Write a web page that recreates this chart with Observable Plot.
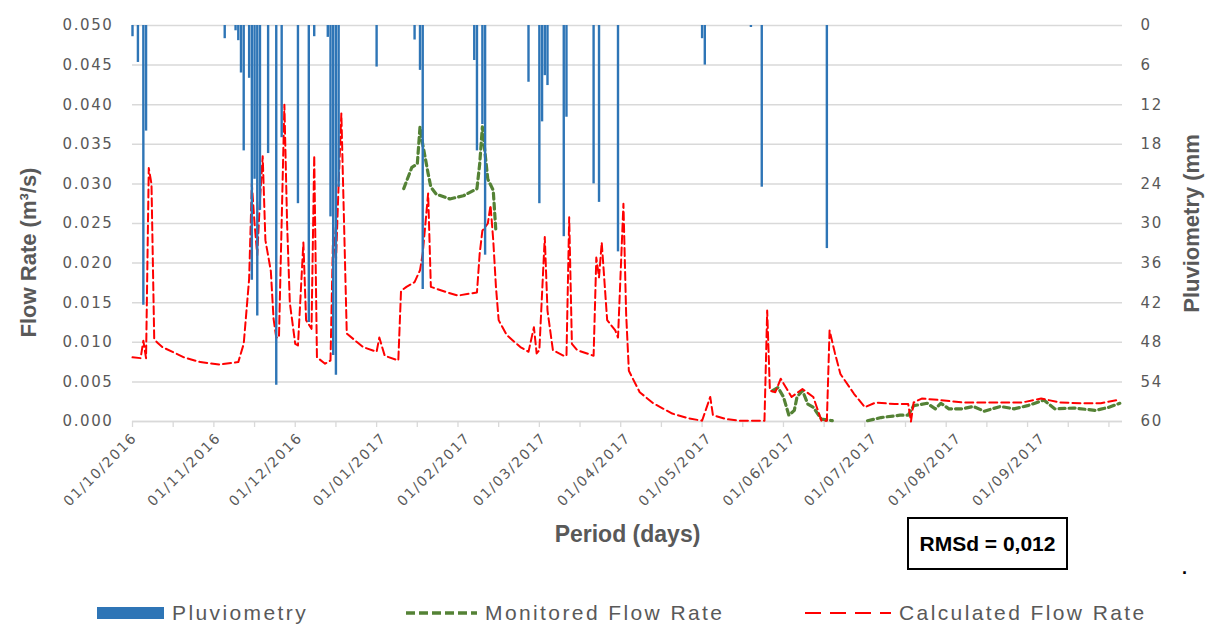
<!DOCTYPE html>
<html>
<head>
<meta charset="utf-8">
<script src="https://cdn.jsdelivr.net/npm/d3@7"></script>
<script src="https://cdn.jsdelivr.net/npm/@observablehq/plot@0.6"></script>
<style>
  html, body { margin: 0; padding: 0; background: #fff; }
  #wrap { position: relative; width: 1207px; height: 626px; overflow: hidden; font-family: "Liberation Sans", Arial, sans-serif; }
  #chart { position: absolute; left: 0; top: 0; }
  .legend-item { position: absolute; top: 600px; height: 26px; display: flex; align-items: center; color: #595959; font-size: 21px; letter-spacing: 2.4px; white-space: nowrap; }
  .legend-item svg { margin-right: 8px; }
  #rms { position: absolute; left: 907px; top: 517px; width: 157px; height: 49px; border: 2px solid #000; box-sizing: content-box; display: flex; align-items: center; justify-content: center; font-weight: bold; font-size: 21px; color: #000; }
  #dot { position: absolute; left: 1182px; top: 558px; font-weight: bold; font-size: 18px; color: #000; }
</style>
</head>
<body>
<div id="wrap">
  <div id="chart"></div>
  <div id="rms">RMSd = 0,012</div>
  <div id="dot">.</div>
</div>
<script>
// Daily rainfall (mm)
const pluvioDates = [
  "2016-10-01","2016-10-03","2016-10-05","2016-10-06","2016-11-04","2016-11-08","2016-11-09","2016-11-10",
  "2016-11-11","2016-11-13","2016-11-14","2016-11-15","2016-11-16","2016-11-17","2016-11-20","2016-11-23",
  "2016-11-25","2016-12-01","2016-12-05","2016-12-07","2016-12-12","2016-12-13","2016-12-14","2016-12-15",
  "2016-12-16","2016-12-30","2017-01-13","2017-01-15","2017-01-16","2017-02-04","2017-02-05","2017-02-07",
  "2017-02-08","2017-02-24","2017-02-28","2017-03-01","2017-03-02","2017-03-03","2017-03-09","2017-03-10",
  "2017-03-20","2017-03-22","2017-03-29","2017-04-29","2017-04-30","2017-05-17","2017-05-21","2017-06-14"
];
const pluvioMm = [
  1.7, 5.6, 42.4, 16, 2.0, 0.8, 2.3, 7.2,
  19, 8, 38.6, 23.3, 44, 28, 19.4, 54.5,
  17, 27, 45, 1.7, 1.8, 29, 50, 53,
  24.5, 6.3, 2.2, 6.8, 40, 5.3, 19, 15,
  34.8, 8.6, 27, 14.6, 7.6, 9.1, 32, 13.9,
  24, 26.8, 34.3, 2, 6, 0.3, 24.5, 33.8
];

// Calculated flow rate (m3/s)
const calcDates = [
  "2016-10-01","2016-10-04","2016-10-05","2016-10-06","2016-10-07","2016-10-08","2016-10-09","2016-10-10",
  "2016-10-12","2016-10-20","2016-10-26","2016-11-02","2016-11-09","2016-11-11","2016-11-13","2016-11-14",
  "2016-11-15","2016-11-16","2016-11-17","2016-11-18","2016-11-19","2016-11-21","2016-11-22","2016-11-23",
  "2016-11-24","2016-11-26","2016-11-27","2016-11-28","2016-11-30","2016-12-01","2016-12-03","2016-12-04",
  "2016-12-06","2016-12-07","2016-12-08","2016-12-11","2016-12-13","2016-12-14","2016-12-15","2016-12-16",
  "2016-12-17","2016-12-19","2016-12-25","2016-12-30","2016-12-31","2017-01-02","2017-01-07","2017-01-08",
  "2017-01-10","2017-01-13","2017-01-15","2017-01-16","2017-01-18","2017-01-19","2017-01-25","2017-01-29",
  "2017-02-05","2017-02-06","2017-02-07","2017-02-09","2017-02-10","2017-02-11","2017-02-12","2017-02-13",
  "2017-02-16","2017-02-21","2017-02-24","2017-02-26","2017-02-27","2017-02-28","2017-03-02","2017-03-03",
  "2017-03-05","2017-03-09","2017-03-10","2017-03-11","2017-03-12","2017-03-14","2017-03-20","2017-03-21",
  "2017-03-22","2017-03-23","2017-03-25","2017-03-28","2017-03-29","2017-03-31","2017-04-01","2017-04-02",
  "2017-04-06","2017-04-11","2017-04-18","2017-04-24","2017-04-29","2017-05-02","2017-05-03","2017-05-08",
  "2017-05-13","2017-05-22","2017-05-23","2017-05-24","2017-05-26","2017-05-28","2017-06-01","2017-06-05",
  "2017-06-09","2017-06-12","2017-06-14","2017-06-15","2017-06-17","2017-06-19","2017-06-24","2017-06-28",
  "2017-07-02","2017-07-09","2017-07-14","2017-07-15","2017-07-16","2017-07-19","2017-07-26","2017-08-03",
  "2017-08-10","2017-08-17","2017-08-25","2017-09-01","2017-09-08","2017-09-16","2017-09-23","2017-09-29",
  "2017-09-30"
];
const calcFlow = [
  0.0081, 0.0080, 0.0102, 0.0080, 0.0320, 0.0300, 0.0105, 0.0100,
  0.0094, 0.0081, 0.0075, 0.0072, 0.0075, 0.0098, 0.0180, 0.0300,
  0.0250, 0.0210, 0.0280, 0.0335, 0.0229, 0.0190, 0.0130, 0.0106,
  0.0106, 0.0400, 0.0250, 0.0150, 0.0098, 0.0096, 0.0226, 0.0128,
  0.0117, 0.0336, 0.0081, 0.0073, 0.0077, 0.0245, 0.0200, 0.0300,
  0.0389, 0.0111, 0.0094, 0.0088, 0.0106, 0.0083, 0.0077, 0.0165,
  0.0170, 0.0176, 0.0191, 0.0212, 0.0288, 0.0170, 0.0163, 0.0159,
  0.0163, 0.0212, 0.0241, 0.0250, 0.0273, 0.0229, 0.0170, 0.0128,
  0.0109, 0.0094, 0.0088, 0.0119, 0.0086, 0.0090, 0.0233, 0.0140,
  0.0090, 0.0083, 0.0083, 0.0258, 0.0098, 0.0090, 0.0083, 0.0207,
  0.0182, 0.0226, 0.0128, 0.0115, 0.0106, 0.0275, 0.0136, 0.0064,
  0.0037, 0.0023, 0.0010, 0.0004, 0.0001, 0.0031, 0.0008, 0.0003,
  0.0001, 0.0001, 0.0140, 0.0039, 0.0037, 0.0054, 0.0031, 0.0041,
  0.0031, 0.0001, 0.0001, 0.0115, 0.0086, 0.0060, 0.0035, 0.0018,
  0.0024, 0.0022, 0.0022, 0.0000, 0.0024, 0.0029, 0.0027, 0.0024,
  0.0024, 0.0024, 0.0024, 0.0029, 0.0024, 0.0023, 0.0023, 0.0027,
  0.0028
];

// Monitored flow rate (m3/s); null marks a break in the record
const monDates = [
  "2017-01-09","2017-01-12","2017-01-14","2017-01-15","2017-01-16","2017-01-18","2017-01-19","2017-01-21",
  "2017-01-26","2017-01-31","2017-02-05","2017-02-06","2017-02-07","2017-02-08","2017-02-09","2017-02-11",
  "2017-02-12","2017-03-01","2017-05-25","2017-05-27","2017-05-29","2017-05-31","2017-06-02","2017-06-03",
  "2017-06-05","2017-06-07","2017-06-09","2017-06-12","2017-06-16","2017-06-22","2017-06-29","2017-07-04",
  "2017-07-11","2017-07-14","2017-07-16","2017-07-21","2017-07-24","2017-07-26","2017-07-29","2017-08-03",
  "2017-08-07","2017-08-11","2017-08-17","2017-08-22","2017-08-27","2017-09-02","2017-09-06","2017-09-13",
  "2017-09-21","2017-09-26","2017-09-30"
];
const monFlow = [
  0.0294, 0.0321, 0.0325, 0.0372, 0.0350, 0.0313, 0.0296, 0.0287,
  0.0281, 0.0285, 0.0294, 0.0325, 0.0372, 0.0338, 0.0306, 0.0292,
  0.0239, null, 0.0039, 0.0043, 0.0031, 0.0008, 0.0014, 0.0031,
  0.0039, 0.0022, 0.0018, 0.0003, 0.0001, null, 0.0001, 0.0005,
  0.0008, 0.0008, 0.0020, 0.0023, 0.0016, 0.0023, 0.0016, 0.0016,
  0.0019, 0.0013, 0.0019, 0.0016, 0.0020, 0.0027, 0.0016, 0.0017,
  0.0014, 0.0018, 0.0023
];

// Axis ticks
const flowTicks = [0, 0.005, 0.010, 0.015, 0.020, 0.025, 0.030, 0.035, 0.040, 0.045, 0.050];
const pluvioTicks = [0, 6, 12, 18, 24, 30, 36, 42, 48, 54, 60];
const monthLabels = [
  "2016-10-01","2016-11-01","2016-12-01","2017-01-01","2017-02-01","2017-03-01",
  "2017-04-01","2017-05-01","2017-06-01","2017-07-01","2017-08-01","2017-09-01"
];
const periodStart = "2016-10-01";
const periodEnd = "2017-10-01";

const parse = d3.utcParse("%Y-%m-%d");
const fmt = d3.utcFormat("%d/%m/%Y");

const pluvio = pluvioDates.map((d, i) => ({date: parse(d), mm: pluvioMm[i]}));
const calc = calcDates.map((d, i) => ({date: parse(d), q: calcFlow[i]}));
const mon = monDates.map((d, i) => ({date: parse(d), q: monFlow[i]}));

// Rainfall shares the plot with flow: 0 mm at the top (0.05), 60 mm at the bottom (0)
const flowMax = 0.05, mmMax = 60;
const mmToFlow = mm => flowMax - mm * flowMax / mmMax;
const flowToMm = q => Math.round((flowMax - q) * mmMax / flowMax);

const x0 = parse(periodStart), x1 = parse(periodEnd);
const tickDates = d3.range(0, 361, 15).map(k => d3.utcDay.offset(x0, k));

const titleFont = "'Liberation Sans', Arial, sans-serif";

const chart = Plot.plot({
  width: 1207,
  height: 590,
  marginTop: 25,
  marginBottom: 169,
  marginLeft: 132,
  marginRight: 85,
  x: {type: "utc", domain: [x0, x1]},
  y: {domain: [0, flowMax]},
  style: {fontFamily: "'DejaVu Sans', sans-serif", fontSize: "14px", color: "#595959", background: "white"},
  marks: [
    Plot.gridY(flowTicks, {stroke: "#d9d9d9", strokeOpacity: 1, strokeWidth: 1.5}),
    Plot.ruleY([0], {stroke: "#d9d9d9", strokeWidth: 1.5}),
    Plot.axisX(tickDates, {tickSize: 6, stroke: "#d9d9d9", strokeOpacity: 1, strokeWidth: 1.3, fill: "none", label: null}),
    Plot.axisX(monthLabels.map(parse), {
      tickSize: 0, tickRotate: -45, tickPadding: 14, dx: 2, tickFormat: fmt, fill: "#595959", fontSize: 14, label: null
    }),
    Plot.axisY(flowTicks, {anchor: "left", tickSize: 0, tickPadding: 19, tickFormat: d3.format(".3f"), fill: "#595959", fontSize: 15, label: null}),
    Plot.axisY(pluvioTicks.map(mmToFlow), {anchor: "right", tickSize: 0, tickPadding: 18, tickFormat: flowToMm, fill: "#595959", fontSize: 15, label: null}),
    Plot.line(mon, {x: "date", y: "q", stroke: "#548235", strokeWidth: 3.2, strokeDasharray: "6,4"}),
    Plot.line(calc, {x: "date", y: "q", stroke: "#ff0000", strokeWidth: 2, strokeDasharray: "8,4"}),
    Plot.ruleX(pluvio, {x: "date", y1: () => flowMax, y2: d => mmToFlow(d.mm), stroke: "#2e75b6", strokeWidth: 2.4}),
    Plot.text(["Flow Rate (m³/s)"], {frameAnchor: "left", textAnchor: "middle", dx: -104, dy: 29, rotate: -90, fontSize: 22, fontWeight: "bold", fill: "#595959", fontFamily: titleFont}),
    Plot.text(["Pluviometry (mm"], {frameAnchor: "right", textAnchor: "middle", dx: 69, dy: 0, rotate: -90, fontSize: 22, fontWeight: "bold", fill: "#595959", fontFamily: titleFont}),
    Plot.text(["Period (days)"], {frameAnchor: "bottom", textAnchor: "middle", dy: 120, fontSize: 23, fontWeight: "bold", fill: "#595959", fontFamily: titleFont})
  ]
});

chart.querySelectorAll('g[aria-label$="tick label"] text').forEach(t => t.style.letterSpacing = "1.6px");
document.getElementById("chart").appendChild(chart);

// Legend
const wrap = document.getElementById("wrap");
const legendItems = [
  {label: "Pluviometry", left: 97, swatch: `<svg width="67" height="14"><rect x="0" y="1" width="67" height="12" fill="#2e75b6"/></svg>`},
  {label: "Monitored Flow Rate", left: 405, swatch: `<svg width="72" height="14"><line x1="1" y1="7" x2="72" y2="7" stroke="#548235" stroke-width="3.5" stroke-dasharray="9,4"/></svg>`},
  {label: "Calculated Flow Rate", left: 805, swatch: `<svg width="86" height="14"><line x1="0" y1="7" x2="86" y2="7" stroke="#ff0000" stroke-width="2" stroke-dasharray="16,9"/></svg>`}
];
legendItems.forEach(it => {
  const div = document.createElement("div");
  div.className = "legend-item";
  div.style.left = it.left + "px";
  div.innerHTML = it.swatch + `<span>${it.label}</span>`;
  wrap.appendChild(div);
});
</script>
</body>
</html>
